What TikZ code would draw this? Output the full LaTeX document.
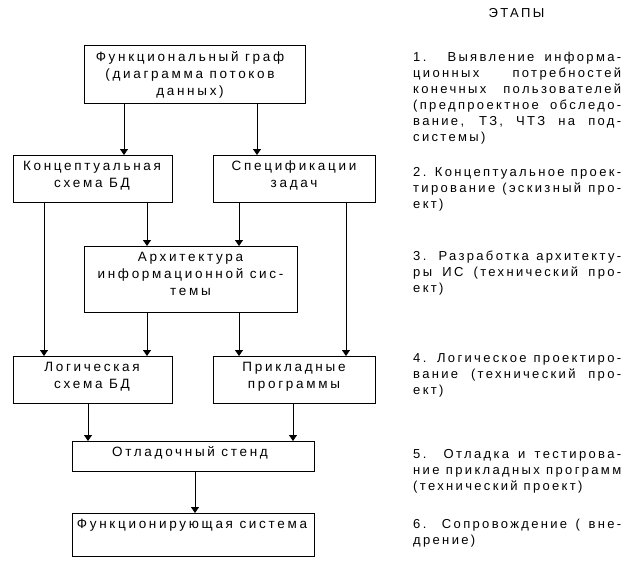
\documentclass[tikz,border=0pt]{standalone}
\usepackage{fontspec}
\setmainfont{Liberation Sans}[LetterSpace=18]
\newfontfamily\bxfont{Liberation Sans}[LetterSpace=20]
\usetikzlibrary{arrows.meta}
\newcommand\ctext[1]{\vtop{\baselineskip=17pt\halign{\hfil##\hfil\cr#1\cr}}}
\newcommand\jl[1]{\hbox to 208pt{#1}}
\newcommand\rcol[1]{\vtop{\hsize=208pt\baselineskip=16pt\parindent=0pt #1}}
\tikzset{
  box/.style={draw, line width=0.9pt, inner sep=0pt, outer sep=0pt},
  txt/.style={anchor=base, inner sep=0pt, font=\bxfont\fontsize{13.5}{17}\selectfont},
  rtxt/.style={anchor=base west, inner sep=0pt, font=\fontsize{13}{16}\selectfont},
  arr/.style={line width=0.9pt, -{Triangle[length=6pt,width=8pt]}}
}
\begin{document}
\begin{tikzpicture}[x=1pt,y=-1pt]
\useasboundingbox[fill=white] (0,0) rectangle (637,560);
% boxes
\node[box, minimum width=221pt, minimum height=58pt] (fg) at (194.5,74) {};
\node[box, minimum width=159pt, minimum height=47pt] (cs) at (92.5,178.5) {};
\node[box, minimum width=162pt, minimum height=47pt] (sp) at (294,178.5) {};
\node[box, minimum width=213pt, minimum height=66pt] (ar) at (190.5,279) {};
\node[box, minimum width=159pt, minimum height=47pt] (lg) at (92.5,379.5) {};
\node[box, minimum width=162pt, minimum height=47pt] (ap) at (294,379.5) {};
\node[box, minimum width=242pt, minimum height=30pt] (ot) at (193,456) {};
\node[box, minimum width=242pt, minimum height=43pt] (fs) at (193,534.5) {};
% box texts
\node[txt] (fgt) at (190,61.5) {\ctext{Функциональный граф\cr (диаграмма потоков\cr данных)}};
\node[txt] (cst) at (92,170.5) {\ctext{Концептуальная\cr схема БД}};
\node[txt] (spt) at (294,170.5) {\ctext{Спецификации\cr задач}};
\node[txt] (art) at (190.5,261.5) {\ctext{Архитектура\cr информационной сис-\cr темы}};
\node[txt] (lgt) at (92,371.5) {\ctext{Логическая\cr схема БД}};
\node[txt] (apt) at (294,371.5) {\ctext{Прикладные\cr программы}};
\node[txt] (ott) at (190,456) {\ctext{Отладочный стенд}};
\node[txt] (fst) at (192,528) {\ctext{Функционирующая система}};
% arrows
\draw[arr] ([xshift=-70.5pt]fg.south) -- ([xshift=31.5pt]cs.north);
\draw[arr] ([xshift=62.5pt]fg.south) -- ([xshift=-37pt]sp.north);
\draw[arr] ([xshift=-48.5pt]cs.south) -- ([xshift=-48.5pt]lg.north);
\draw[arr] ([xshift=54.5pt]cs.south) -- ([xshift=-43.5pt]ar.north);
\draw[arr] ([xshift=-55pt]sp.south) -- ([xshift=48.5pt]ar.north);
\draw[arr] ([xshift=52pt]sp.south) -- ([xshift=52pt]ap.north);
\draw[arr] ([xshift=-43.5pt]ar.south) -- ([xshift=54.5pt]lg.north);
\draw[arr] ([xshift=48.5pt]ar.south) -- ([xshift=-55pt]ap.north);
\draw[arr] ([xshift=-4.5pt]lg.south) -- ([xshift=-105pt]ot.north);
\draw[arr] ([xshift=-1pt]ap.south) -- ([xshift=100pt]ot.north);
\draw[arr] ([xshift=2pt]ot.south) -- ([xshift=2pt]fs.north);
% right column
\node[rtxt, anchor=base] (hd) at (516.5,17) {ЭТАПЫ};
\node[rtxt] (p1) at (413,61.5) {\rcol{\jl{1. Выявление информа-}\jl{ционных потребностей}\jl{конечных пользователей}\jl{(предпроектное обследо-}\jl{вание, ТЗ, ЧТЗ на под-}\hbox{системы)}}};
\node[rtxt] (p2) at (413,176.5) {\rcol{\jl{2. Концептуальное проек-}\jl{тирование (эскизный про-}\hbox{ект)}}};
\node[rtxt] (p3) at (413,260.5) {\rcol{\jl{3. Разработка архитекту-}\jl{ры ИС (технический про-}\hbox{ект)}}};
\node[rtxt] (p4) at (413,362.5) {\rcol{\jl{4. Логическое проектиро-}\jl{вание (технический про-}\hbox{ект)}}};
\node[rtxt] (p5) at (413,458.5) {\rcol{\jl{5. Отладка и тестирова-}\jl{ние прикладных программ}\hbox{(технический проект)}}};
\node[rtxt] (p6) at (413,528.5) {\rcol{\jl{6. Сопровождение ( вне-}\hbox{дрение)}}};
\end{tikzpicture}
\end{document}
